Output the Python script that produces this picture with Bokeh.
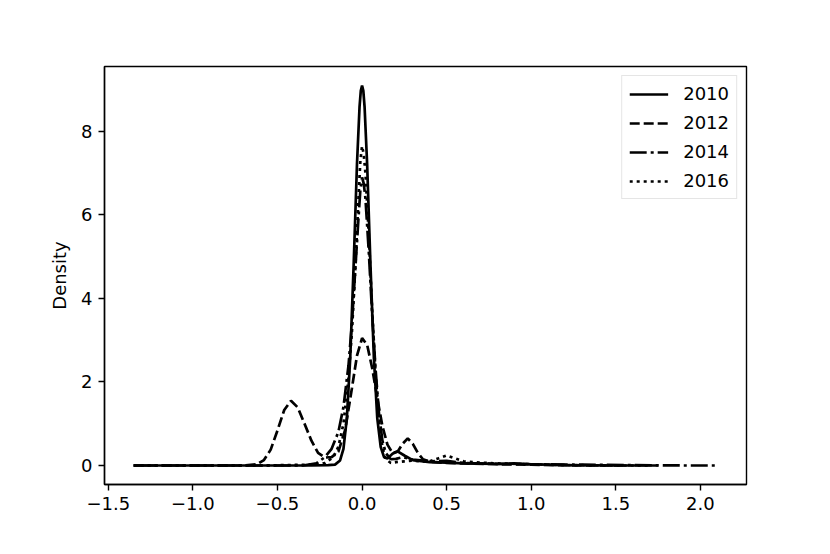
from bokeh.plotting import figure
from bokeh.models import Range1d, FixedTicker
from bokeh.embed import file_html
from bokeh.resources import INLINE

# ---- data ----
x_2010 = [-1.35, -0.6, -0.3, -0.2, -0.16, -0.13, -0.11, -0.09, -0.07, -0.05, -0.03, -0.015, -0.0075, 0.0,
          0.0075, 0.015, 0.03, 0.05, 0.07, 0.09, 0.11, 0.13, 0.15, 0.18, 0.21, 0.25, 0.3, 0.4, 0.5, 0.6,
          0.8, 0.9, 1.0, 1.2, 1.5, 1.75]
y_2010 = [0.0, 0.0, 0.0, 0.01, 0.02, 0.12, 0.40, 1.13, 2.57, 4.77, 7.22, 8.58, 8.97, 9.1,
          8.97, 8.58, 7.22, 4.77, 2.57, 1.13, 0.45, 0.2, 0.17, 0.28, 0.34, 0.24, 0.13, 0.08, 0.07, 0.05,
          0.04, 0.05, 0.03, 0.01, 0.0, 0.0]

x_2012 = [-1.35, -0.7, -0.62, -0.58, -0.54, -0.50, -0.46, -0.42, -0.38, -0.34, -0.30, -0.26,
          -0.22, -0.18, -0.14, -0.10, -0.06, -0.03, 0.0, 0.03, 0.06, 0.09, 0.12, 0.15, 0.18,
          0.21, 0.24, 0.27, 0.30, 0.33, 0.36, 0.40, 0.5, 0.6, 0.8, 1.0, 1.3, 1.55]
y_2012 = [0.0, 0.0, 0.03, 0.13, 0.38, 0.84, 1.33, 1.55, 1.39, 1.0, 0.6, 0.3,
          0.19, 0.2, 0.33, 0.85, 1.85, 2.63, 3.05, 2.89, 2.33, 1.61, 0.95, 0.5, 0.3,
          0.33, 0.52, 0.65, 0.52, 0.3, 0.15, 0.09, 0.06, 0.05, 0.03, 0.02, 0.0, 0.0]

x_2014 = [-1.35, -0.6, -0.35, -0.27, -0.22, -0.18, -0.14, -0.11, -0.08, -0.06, -0.04, -0.02, -0.01, 0.0,
          0.01, 0.02, 0.04, 0.06, 0.08, 0.10, 0.12, 0.14, 0.17, 0.20, 0.24, 0.3, 0.4, 0.5, 0.6, 0.8,
          1.0, 1.3, 1.6, 1.9, 2.1]
y_2014 = [0.0, 0.0, 0.0, 0.05, 0.2, 0.4, 0.8, 1.4, 2.4, 3.4, 4.7, 6.0, 6.6, 6.9,
          6.75, 6.4, 5.1, 3.6, 2.3, 1.25, 0.6, 0.3, 0.15, 0.16, 0.2, 0.14, 0.1, 0.11, 0.06, 0.04,
          0.03, 0.02, 0.01, 0.0, 0.0]

x_2016 = [-1.35, -0.6, -0.3, -0.22, -0.17, -0.14, -0.11, -0.08, -0.06, -0.04, -0.02, -0.01, 0.0,
          0.01, 0.02, 0.04, 0.06, 0.08, 0.10, 0.12, 0.14, 0.17, 0.2, 0.25, 0.3, 0.35, 0.4, 0.45,
          0.5, 0.55, 0.6, 0.7, 0.8, 1.0, 1.2, 1.5, 1.7]
y_2016 = [0.0, 0.0, 0.02, 0.06, 0.2, 0.45, 1.0, 2.1, 3.2, 4.7, 6.5, 7.3, 7.65,
          7.45, 7.0, 5.5, 3.7, 2.2, 1.1, 0.45, 0.15, 0.06, 0.08, 0.1, 0.12, 0.1, 0.1, 0.17,
          0.24, 0.17, 0.1, 0.07, 0.05, 0.03, 0.01, 0.0, 0.0]

series_names = ["2010", "2012", "2014", "2016"]
x_ticks = [-1.5, -1.0, -0.5, 0.0, 0.5, 1.0, 1.5, 2.0]
x_tick_labels = ["\u22121.5", "\u22121.0", "\u22120.5", "0.0", "0.5", "1.0", "1.5", "2.0"]
y_ticks = [0, 2, 4, 6, 8]
y_tick_labels = ["0", "2", "4", "6", "8"]
y_label = "Density"

# ---- figure ----
FONT = "DejaVu Sans"
p = figure(width=830, height=554, output_backend="svg", toolbar_location=None,
           x_range=Range1d(-1.5225, 2.2725), y_range=Range1d(-0.455, 9.555),
           min_border_left=104, min_border_right=84, min_border_top=66, min_border_bottom=70)
p.background_fill_color = "white"
p.border_fill_color = "white"
p.grid.visible = False
p.outline_line_color = "black"
p.outline_line_width = 1.4

styles = [
    dict(line_dash="solid"),
    dict(line_dash="10 4"),
    dict(line_dash="17 4 3 4"),
    dict(line_dash="3 4"),
]
xs = [x_2010, x_2012, x_2014, x_2016]
ys = [y_2010, y_2012, y_2014, y_2016]
for name, xv, yv, st in zip(series_names, xs, ys, styles):
    p.line(xv, yv, line_color="black", line_width=2.7, legend_label=name, **st)

for ax in (p.xaxis[0], p.yaxis[0]):
    ax.axis_line_color = "black"
    ax.axis_line_width = 1.4
    ax.major_tick_line_color = "black"
    ax.major_tick_line_width = 1.4
    ax.major_tick_in = 0
    ax.major_tick_out = 6
    ax.minor_tick_in = 0
    ax.minor_tick_out = 0
    ax.major_label_text_font = FONT
    ax.major_label_text_font_size = "18px"
    ax.major_label_text_color = "black"
    ax.major_label_standoff = 6
    ax.axis_label_text_font = FONT
    ax.axis_label_text_font_size = "18px"
    ax.axis_label_text_font_style = "normal"
    ax.axis_label_text_color = "black"

p.xaxis[0].ticker = FixedTicker(ticks=x_ticks)
p.xaxis[0].major_label_overrides = {float(t): l for t, l in zip(x_ticks, x_tick_labels)}
p.yaxis[0].ticker = FixedTicker(ticks=y_ticks)
p.yaxis[0].major_label_overrides = {float(t): l for t, l in zip(y_ticks, y_tick_labels)}
p.yaxis[0].axis_label = y_label
p.yaxis[0].axis_label_standoff = 8

lg = p.legend[0]
lg.location = "top_right"
lg.margin = 9
lg.padding = 7
lg.spacing = 8
lg.glyph_width = 39
lg.glyph_height = 20
lg.label_standoff = 15
lg.label_text_font = FONT
lg.label_text_font_size = "18px"
lg.label_text_color = "black"
lg.label_height = 20
lg.border_line_color = "#cccccc"
lg.border_line_width = 1.5
lg.background_fill_color = "white"
lg.background_fill_alpha = 0.8

open("out.html", "w").write(file_html(p, INLINE))
